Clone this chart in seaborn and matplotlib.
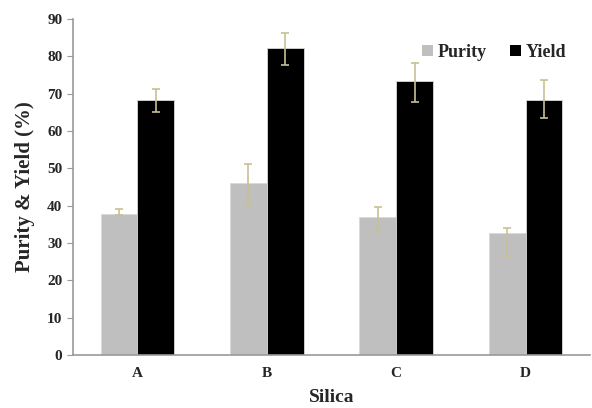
import matplotlib
matplotlib.use('Agg')
import matplotlib.pyplot as plt
import seaborn as sns
import pandas as pd
import numpy as np

# data
silica = ['A', 'B', 'C', 'D']
purity = [37.9, 46.2, 36.9, 32.6]
purity_lo = [0.4, 5.9, 3.3, 6.0]
purity_hi = [1.3, 5.0, 2.8, 1.4]
yld = [68.3, 82.4, 73.5, 68.3]
yld_lo = [3.1, 4.7, 5.8, 4.8]
yld_hi = [3.1, 4.0, 4.8, 5.4]

df = pd.DataFrame({
    'Silica': silica * 2,
    'value': purity + yld,
    'serie': ['Purity'] * 4 + ['Yield'] * 4,
})

sns.set_style('white')
plt.rcParams['font.family'] = ['Liberation Serif', 'DejaVu Serif']
plt.rcParams['font.weight'] = 'bold'

fig = plt.figure(figsize=(5.92, 4.08), dpi=100)
ax = fig.add_axes([0.123, 0.13, 0.874, 0.823])

sns.barplot(data=df, x='Silica', y='value', hue='serie', ax=ax,
            palette={'Purity': '#bfbfbf', 'Yield': '#000000'},
            width=0.57, errorbar=None, edgecolor='#d9d9d9', linewidth=0.6,
            saturation=1)

# error bars at the bar centres
ebar_col = '#c9c093'
for cont, lo, hi in zip(ax.containers, [purity_lo, yld_lo], [purity_hi, yld_hi]):
    xs = [p.get_x() + p.get_width() / 2 for p in cont]
    hs = [p.get_height() for p in cont]
    ax.errorbar(xs, hs, yerr=[lo, hi], fmt='none', ecolor=ebar_col,
                elinewidth=1.2, capsize=3, capthick=1.2)

ax.set_xlim(-0.5, 3.5)
ax.set_ylim(0, 90)
ax.set_yticks(range(0, 91, 10))
ax.set_xticks([0.5, 1.5, 2.5, 3.5], minor=True)
ax.tick_params(axis='x', which='major', length=0, pad=9, labelsize=11)
ax.tick_params(axis='x', which='minor', length=4, color='#999999', direction='out')
ax.tick_params(axis='y', length=4, color='#999999', direction='out', labelsize=11, left=True)
for lab in ax.get_xticklabels() + ax.get_yticklabels():
    lab.set_fontweight('bold')

sns.despine(ax=ax)
for s in ['left', 'bottom']:
    ax.spines[s].set_color('#999999')
    ax.spines[s].set_linewidth(1.2)

ax.set_xlabel('Silica', fontsize=14, fontweight='bold', labelpad=6)
ax.set_ylabel('Purity & Yield (%)', fontsize=15, fontweight='bold', labelpad=9)

leg = ax.legend(loc='upper right', bbox_to_anchor=(0.985, 0.975), ncol=2, frameon=False,
                fontsize=13, handlelength=0.6, handleheight=0.6, handletextpad=0.25,
                columnspacing=1.3)
for h in leg.legend_handles:
    h.set_edgecolor('none')
for t in leg.get_texts():
    t.set_fontweight('bold')

fig.savefig('out.png', dpi=100)
